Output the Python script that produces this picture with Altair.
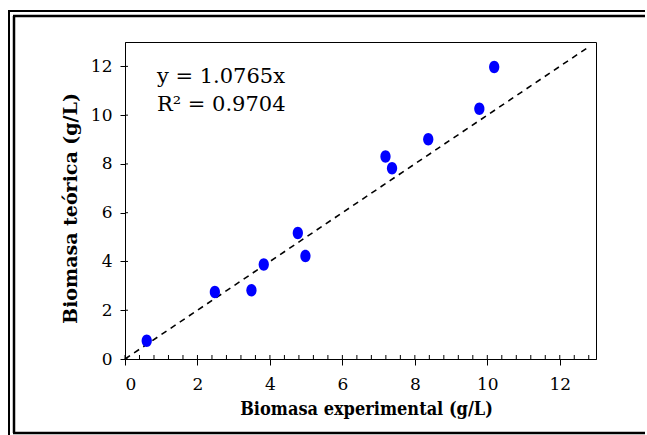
import altair as alt
import pandas as pd

# Experimental vs. model-predicted biomass (g/L)
biomasa_exp = [0.60, 2.48, 3.49, 3.83, 4.77, 4.98, 7.19, 7.37, 8.37, 9.78, 10.19]
biomasa_teo = [0.75, 2.75, 2.82, 3.88, 5.17, 4.22, 8.30, 7.82, 9.01, 10.26, 11.97]

# 1:1 reference line
ref_x = [0.0, 12.75]

# axis tick positions
x_major = [0, 2, 4, 6, 8, 10, 12]
x_minor = [round(0.4 * i, 1) for i in range(33)]
y_ticks = list(range(13))
y_major = [0, 2, 4, 6, 8, 10, 12]

eq_text = ["y = 1.0765x", "R\u00b2 = 0.9704"]

W, H = 471, 317
PAD = {"left": 125, "top": 42, "right": 51, "bottom": 76}
SERIF = "DejaVu Serif"

pts_df = pd.DataFrame({"exp": biomasa_exp, "teo": biomasa_teo})
ref_df = pd.DataFrame({"x": ref_x, "y": ref_x})
xminor_df = pd.DataFrame({"v": x_minor})
ymajor_df = pd.DataFrame({"v": y_major})
one = pd.DataFrame({"k": [0]})

xs = alt.Scale(domain=[0, 13], nice=False, zero=False)
ys = alt.Scale(domain=[0, 13], nice=False, zero=False)

x_axis = alt.Axis(
    values=x_major, title="Biomasa experimental (g/L)", grid=False,
    tickSize=6, labelPadding=11, labelFont=SERIF, labelFontSize=17,
    titleFont="DejaVu Serif Condensed", titleFontWeight="bold", titleFontSize=18,
    titleX=241, titleY=50, titleAlign="center", titleBaseline="middle",
)
y_axis = alt.Axis(
    values=y_ticks, labelExpr="datum.value % 2 == 0 ? datum.label : ''",
    title="Biomasa te\u00f3rica (g/L)", grid=False,
    tickSize=5, labelPadding=8, labelFont=SERIF, labelFontSize=17,
    titleFont=SERIF, titleFontWeight="bold", titleFontSize=19,
    titleAngle=270, titleX=-55, titleY=166, titleAlign="center", titleBaseline="middle",
)

ellipse = "M0,-1 A0.82,1 0 1,1 0,1 A0.82,1 0 1,1 0,-1 Z"

points = alt.Chart(pts_df).mark_point(
    shape=ellipse, size=156, filled=True, color="#0000FF", opacity=1, strokeWidth=0
).encode(
    x=alt.X("exp:Q", scale=xs, axis=x_axis),
    y=alt.Y("teo:Q", scale=ys, axis=y_axis),
)

ref_line = alt.Chart(ref_df).mark_line(
    color="black", strokeDash=[6, 5], strokeWidth=1.6
).encode(
    x=alt.X("x:Q", scale=xs),
    y=alt.Y("y:Q", scale=ys),
)

# inward tick marks along the bottom and left edges
x_in_ticks = alt.Chart(xminor_df).mark_rule(color="black", strokeWidth=1).encode(
    x=alt.X("v:Q", scale=xs),
    y=alt.value(H),
    y2=alt.value(H - 4),
)
y_in_ticks = alt.Chart(ymajor_df).mark_rule(color="black", strokeWidth=1).encode(
    y=alt.Y("v:Q", scale=ys),
    x=alt.value(0),
    x2=alt.value(3),
)

eq_style = dict(align="left", baseline="middle", font=SERIF, fontSize=21, color="black")
eq1 = alt.Chart(one).mark_text(**eq_style).encode(
    x=alt.datum(0.88, scale=xs), y=alt.datum(11.55, scale=ys), text=alt.value(eq_text[0]))
eq2 = alt.Chart(one).mark_text(**eq_style).encode(
    x=alt.datum(0.88, scale=xs), y=alt.datum(10.41, scale=ys), text=alt.value(eq_text[1]))

# double frame around the figure (left, top and bottom edges)
RIGHT = W + PAD["right"] - 2
BOTTOM = H + PAD["bottom"]


def frame_rule(x, x2, y, y2, w):
    return alt.Chart(one).mark_rule(color="black", strokeWidth=w).encode(
        x=alt.value(x), x2=alt.value(x2), y=alt.value(y), y2=alt.value(y2))


frame = [
    frame_rule(-116, -116, -31, BOTTOM, 2),     # outer left
    frame_rule(-117, RIGHT, -31, -31, 2),       # outer top
    frame_rule(-111, -111, -26, 391, 2.5),      # inner left
    frame_rule(-112, RIGHT, -26, -26, 2.5),     # inner top
    frame_rule(-112, RIGHT, 391, 391, 2.5),     # inner bottom
]

chart = alt.layer(
    ref_line, points, x_in_ticks, y_in_ticks, eq1, eq2, *frame
).properties(
    width=W, height=H,
    autosize=alt.AutoSizeParams(type="none"),
    padding=PAD,
    background="white",
).configure_view(
    stroke="black", strokeWidth=1
).configure_axis(
    domainColor="black", tickColor="black", labelColor="black", titleColor="black",
    domainWidth=1, tickWidth=1,
)

chart.save("out.html", embed_options={"renderer": "svg", "actions": False})
